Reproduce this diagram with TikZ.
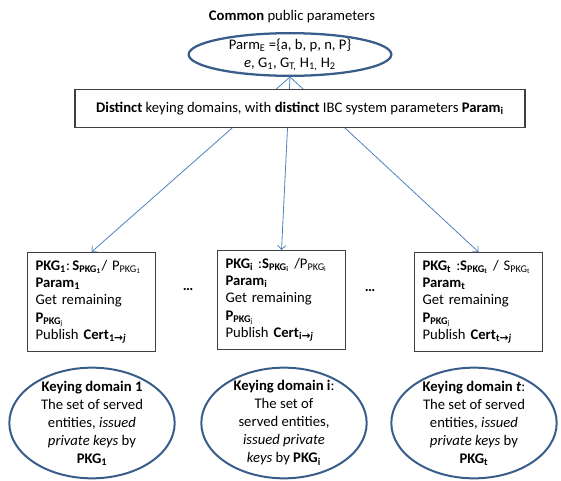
\documentclass[tikz,border=0pt]{standalone}
\usepackage{fontspec}
\setmainfont{Carlito}
\newfontfamily\arrowfont{DejaVu Sans}
\usetikzlibrary{shapes.geometric,arrows.meta,backgrounds}
\definecolor{linkblue}{RGB}{79, 129, 189}
\definecolor{ovalblue}{RGB}{56, 93, 138}
\newcommand{\sbs}[1]{\textsubscript{#1}}
\newcommand{\toarrow}{{\arrowfont\bfseries\footnotesize →}}

\begin{document}
\begin{tikzpicture}[x=0.75pt, y=-0.75pt,
    every node/.style={font=\fontsize{11}{13}\selectfont},
    parmoval/.style={ellipse, draw=ovalblue, line width=1.7pt, minimum width=152pt, minimum height=32pt, inner sep=0pt},
    domoval/.style={ellipse, draw=ovalblue, line width=1.5pt, minimum width=124pt, minimum height=83pt, inner sep=0pt},
    ovaltext/.style={align=center, font=\fontsize{11}{13.5}\selectfont},
    mainbox/.style={draw=black!75, fill=white, line width=0.8pt, minimum width=337.5pt, minimum height=29pt},
    pkgbox/.style={draw=black!75, fill=white, line width=0.8pt, anchor=north west, minimum width=96pt, minimum height=74pt,
                   text width=84pt, inner xsep=6pt, align=left},
    conn/.style={draw=linkblue, line width=0.6pt, -{Straight Barb[length=3pt, width=6pt]}}]
    \useasboundingbox (0,0) rectangle (561,481);
    % Common parameters
    \node (title) at (292,17) {\textbf{Common} public parameters};
    \node[parmoval] (parm) at (290,54.5) {};
    \node[ovaltext] (parmtext) at (parm) {Parm\sbs{E} =\{a, b, p, n, P\}\\
        \textit{e}, G\sbs{1}, G\sbs{T,} H\sbs{1,} H\sbs{2}};
    % Distinct domains
    \node[mainbox] (distinct) at (300,108.5) {\textbf{Distinct} keying domains, with \textbf{distinct} IBC system parameters \textbf{Param\sbs{i}}};
    % PKG boxes
    \node[pkgbox] (pkg1) at (27,252) {\textbf{PKG\sbs{1}}:\,\textbf{S\sbs{PKG\sbs{1}}}/ P\sbs{PKG\sbs{1}}\\
        \textbf{Param\sbs{1}}\\
        Get remaining\\
        \textbf{P\sbs{PKG\sbs{\mdseries j}}}\\
        Publish \textbf{Cert\sbs{1\toarrow\textit{j}}}};
    \node[pkgbox] (pkgi) at (217,250) {\textbf{PKG\sbs{i}} :\textbf{S\sbs{PKG\sbs{i}}} /P\sbs{PKG\sbs{i}}\\
        \textbf{Param\sbs{i}}\\
        Get remaining\\
        \textbf{P\sbs{PKG\sbs{\mdseries j}}}\\
        Publish \textbf{Cert\sbs{i\toarrow\textit{j}}}};
    \node[pkgbox] (pkgt) at (414,252) {\textbf{PKG\sbs{t}} :\textbf{S\sbs{PKG\sbs{t}}} / S\sbs{PKG\sbs{t}}\\
        \textbf{Param\sbs{t}}\\
        Get remaining\\
        \textbf{P\sbs{PKG\sbs{\mdseries j}}}\\
        Publish \textbf{Cert\sbs{t\toarrow\textit{j}}}};
    \node (dotsa) at (188,290) {\textbf{\ldots}};
    \node (dotsb) at (370,291) {\textbf{\ldots}};
    % Keying domains
    \node[domoval] (dom1) at (92,423) {};
    \node[ovaltext] (dom1text) at (dom1) {\textbf{Keying domain 1}\\The set of served\\entities, \textit{issued}\\
        \textit{private keys} by\\\textbf{PKG\sbs{1}}};
    \node[domoval] (domi) at (284,423) {};
    \node[ovaltext] (domitext) at (domi) {\textbf{Keying domain i}:\\The set of\\served entities,\\
        \textit{issued private}\\\textit{keys} by \textbf{PKG\sbs{i}}};
    \node[domoval] (domt) at (474,423) {};
    \node[ovaltext] (domttext) at (domt) {\textbf{Keying domain \textit{t}}:\\The set of served\\entities, \textit{issued}\\
        \textit{private keys} by\\\textbf{PKG\sbs{t}}};
    % Connectors behind the main box
    \begin{scope}[on background layer]
        \draw[conn] (parm.south) -- (pkg1.north);
        \draw[conn] (parm.south) -- (pkgi.north);
        \draw[conn] (parm.south) -- (pkgt.north);
    \end{scope}
\end{tikzpicture}
\end{document}
